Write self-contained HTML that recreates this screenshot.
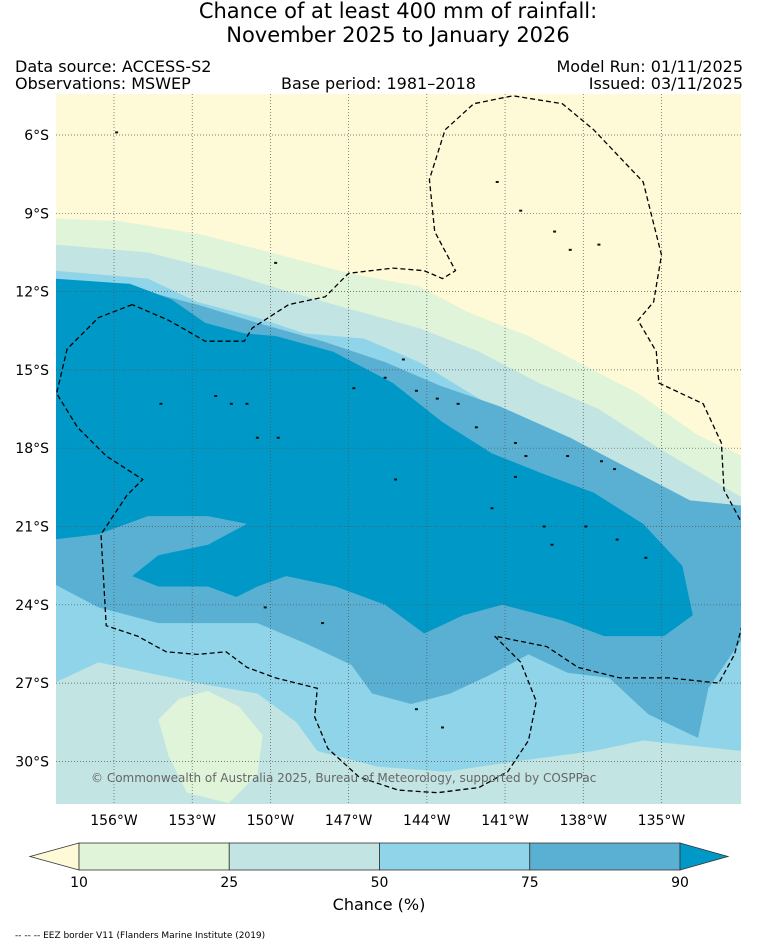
<!DOCTYPE html>
<html><head><meta charset="utf-8"><style>
body{margin:0;background:#fff;width:758px;height:947px;overflow:hidden;font-family:"DejaVu Sans",sans-serif}
svg{display:block}
text{font-family:"DejaVu Sans","Liberation Sans",sans-serif}
</style></head><body>
<svg id="chart" width="758" height="947" viewBox="0 0 758 947">
<text x="398" y="18" font-size="21" text-anchor="middle">Chance of at least 400 mm of rainfall:</text>
<text x="398" y="42" font-size="21" text-anchor="middle">November 2025 to January 2026</text>
<text x="15" y="72" font-size="16">Data source: ACCESS-S2</text>
<text x="15" y="89" font-size="16">Observations: MSWEP</text>
<text x="281" y="89" font-size="16">Base period: 1981–2018</text>
<text x="743" y="72" font-size="16" text-anchor="end">Model Run: 01/11/2025</text>
<text x="743" y="89" font-size="16" text-anchor="end">Issued: 03/11/2025</text>
<defs><clipPath id="mapclip"><rect x="56" y="94" width="685" height="710"/></clipPath></defs>
<g id="map" clip-path="url(#mapclip)"></g>
<g id="axes"></g>
<g id="cbar"></g>
<text x="379" y="910" font-size="16" text-anchor="middle">Chance (%)</text>
<text x="15" y="938" font-size="9">-- -- -- EEZ border V11 (Flanders Marine Institute (2019)</text>
</svg>
<script>
// Map extent and ticks
const lonTicks=[-156,-153,-150,-147,-144,-141,-138,-135];
const latTicks=[6,9,12,15,18,21,24,27,30];
const cbarLevels=[10,25,50,75,90];
const bandColors=["#dff4d8","#c2e4e2","#8fd4e8","#5ab0d2","#0099c7"];
// contour boundaries, [lonW, latS] pairs
const greenTop=[[158.3,9.2],[155.8,9.3],[152.7,9.8],[150.4,10.4],[148.1,11.0],[147.0,11.3],[144.3,11.8],[142.4,12.8],[140.1,13.7],[138.2,14.7],[135.9,15.9],[133.6,17.5],[131.9,18.3]];
const paleTop=[[158.3,10.2],[154.7,10.5],[151.6,11.3],[149.3,12.0],[147.2,12.6],[144.3,13.4],[142.0,14.3],[139.7,15.5],[137.4,16.5],[135.1,18.0],[131.9,19.9]];
const lightTop=[[158.3,11.2],[154.7,11.5],[152.8,12.4],[150.5,13.0],[148.7,13.6],[146.4,13.8],[144.3,14.7],[142.0,16.1],[140.5,17.0],[138.2,18.1],[135.9,19.4],[133.0,21.3],[131.9,21.7]];
const midTop=[[158.3,11.6],[155.1,11.9],[152.8,12.5],[150.5,13.2],[148.0,13.9],[145.6,14.7],[143.5,15.6],[141.2,16.4],[138.5,17.6],[136.2,18.8],[133.9,20.0],[131.9,20.2]];
const midBottom=[[158.3,23.2],[156.6,24.1],[154.3,24.7],[152.4,24.7],[150.5,24.7],[148.6,25.5],[146.9,26.3],[146.1,27.4],[144.6,27.8],[143.1,27.4],[141.6,26.7],[140.1,25.9],[138.6,26.6],[137.0,26.8],[135.5,28.2],[133.6,29.1],[133.2,27.2],[131.9,25.3]];
const lightBottom=[[158.3,27.0],[156.6,26.2],[154.7,26.6],[152.8,27.0],[150.5,27.4],[149.0,28.5],[148.2,29.6],[145.9,30.2],[143.3,30.4],[140.6,30.0],[137.6,29.6],[135.7,29.2],[131.9,29.6]];
const darkShape=[[158.3,11.5],[155.4,11.7],[153.8,12.3],[152.5,13.2],[151.0,13.6],[149.8,13.7],[147.6,14.3],[145.3,15.5],[143.4,17.0],[141.5,18.2],[139.5,19.0],[137.6,19.7],[135.7,20.9],[134.2,22.5],[133.8,24.4],[134.9,25.2],[137.2,25.2],[138.8,24.6],[141.1,24.0],[142.6,24.4],[144.1,25.1],[145.6,24.0],[147.5,23.3],[149.4,22.9],[150.5,23.3],[151.3,23.7],[152.4,23.3],[154.3,23.3],[155.3,22.9],[154.3,22.1],[152.4,21.7],[150.9,20.9],[152.4,20.6],[154.7,20.6],[156.6,21.3],[158.3,21.5]];
const greenBlob=[[153.5,27.6],[152.4,27.3],[151.2,27.9],[150.3,29.0],[150.5,30.5],[151.6,31.6],[153.2,31.2],[153.9,29.8],[154.3,28.4]];
const eez=[[155.3,12.5],[156.6,13.0],[157.8,14.2],[158.2,15.9],[157.4,17.2],[156.3,18.3],[154.9,19.2],[155.5,19.8],[156.5,21.3],[156.3,24.8],[155.1,25.2],[154.0,25.8],[152.8,25.9],[151.7,25.8],[150.9,26.4],[149.8,26.8],[148.2,27.2],[148.3,28.3],[147.8,29.5],[146.6,30.6],[145.1,31.1],[143.6,31.2],[142.0,31.0],[140.9,30.4],[140.1,29.2],[139.8,27.7],[140.4,26.2],[141.4,25.2],[139.4,25.6],[138.2,26.4],[136.6,26.8],[134.7,26.8],[132.8,27.0],[132.2,25.9],[131.7,24.0],[131.9,20.9],[132.6,19.6],[132.7,17.8],[133.4,16.3],[135.1,15.5],[135.2,14.3],[135.9,13.1],[135.3,12.4],[135.0,10.6],[135.7,7.8],[137.6,5.8],[138.8,4.8],[140.7,4.5],[142.2,4.8],[143.3,5.8],[143.9,7.7],[143.7,9.7],[142.9,11.2],[143.4,11.5],[144.1,11.2],[145.3,11.1],[147.0,11.3],[147.9,12.2],[149.3,12.5],[150.7,13.4],[151.0,13.9],[152.5,13.9],[153.9,13.1],[155.3,12.5]];
const islands=[[155.9,5.9],[149.8,10.9],[154.2,16.3],[152.1,16.0],[151.5,16.3],[150.9,16.3],[150.5,17.6],[149.7,17.6],[146.8,15.7],[145.6,15.3],[144.9,14.6],[144.4,15.8],[143.6,16.1],[142.8,16.3],[142.1,17.2],[140.6,17.8],[140.2,18.3],[140.6,19.1],[138.6,18.3],[137.3,18.5],[136.8,18.8],[139.5,21.0],[139.2,21.7],[137.9,21.0],[136.7,21.5],[135.6,22.2],[148.0,24.7],[150.2,24.1],[144.4,28.0],[143.4,28.7],[141.5,20.3],[141.3,7.8],[140.4,8.9],[139.1,9.7],[138.5,10.4],[137.4,10.2],[145.2,19.2]];
const svgNS="http://www.w3.org/2000/svg";
const X0=114, XS=26.07, Y0=135, YS=26.1;
function xScale(lonW){return X0+(156-lonW)*XS;}
function yScale(latS){return Y0+(latS-6)*YS;}
function pts(arr){return arr.map(p=>xScale(p[0]).toFixed(1)+","+yScale(p[1]).toFixed(1));}
function mk(tag,attrs,parent){const e=document.createElementNS(svgNS,tag);for(const k in attrs)e.setAttribute(k,attrs[k]);parent.appendChild(e);return e;}
const map=document.getElementById("map");
let r=mk("rect",{x:56,y:94,width:685,height:710,fill:"#fef9d7"},map);


function bandDown(top,color,name){
  const p=pts(top).concat([xScale(131.9)+","+yScale(32),xScale(158.3)+","+yScale(32)]);
  const e=mk("polygon",{points:p.join(" "),fill:color},map);
  
  
}
function bandBetween(top,bottom,color,name){
  const p=pts(top).concat(pts(bottom.slice().reverse()));
  const e=mk("polygon",{points:p.join(" "),fill:color},map);
  
  
}
bandDown(greenTop,bandColors[0],'band-10-25');
bandDown(paleTop,bandColors[1],'band-25-50');
bandBetween(lightTop,lightBottom,bandColors[2],'band-50-75');
bandBetween(midTop,midBottom,bandColors[3],'band-75-90');
let d=mk("polygon",{points:pts(darkShape).join(" "),fill:bandColors[4]},map);


let g=mk("polygon",{points:pts(greenBlob).join(" "),fill:bandColors[0]},map);


// gridlines
lonTicks.forEach(l=>{const e=mk("line",{x1:xScale(l*-1),x2:xScale(l*-1),y1:94,y2:804,stroke:"#555","stroke-width":0.7,"stroke-dasharray":"1,2"},map);

});
latTicks.forEach(l=>{const e=mk("line",{x1:56,x2:741,y1:yScale(l),y2:yScale(l),stroke:"#555","stroke-width":0.7,"stroke-dasharray":"1,2"},map);

});
islands.forEach(p=>{const e=mk("rect",{x:xScale(p[0])-1.5,y:yScale(p[1])-1,width:3,height:2,fill:"#111"},map);

});
let ez=mk("polyline",{points:pts(eez).join(" "),fill:"none",stroke:"#000","stroke-width":1.3,"stroke-dasharray":"5,3"},map);


let ct=mk("text",{x:91,y:782,"font-size":12,fill:"#666"},map);
ct.textContent="© Commonwealth of Australia 2025, Bureau of Meteorology, supported by COSPPac";


// axis labels
const axes=document.getElementById("axes");
lonTicks.forEach(l=>{const t=mk("text",{x:xScale(-l),y:825,"font-size":14,"text-anchor":"middle"},axes);t.textContent=(-l)+"°W";

});
latTicks.forEach(l=>{const t=mk("text",{x:49,y:yScale(l)+5,"font-size":14,"text-anchor":"end"},axes);t.textContent=l+"°S";

});
// colorbar
const cb=document.getElementById("cbar");
const cx0=79, cx1=680, cy=843, ch=27;
function cbx(v){return cx0+cbarLevels.indexOf(v)*(cx1-cx0)/(cbarLevels.length-1);}
let lt=mk("polygon",{points:`${cx0},${cy} ${cx0},${cy+ch} 30,${cy+ch/2}`,fill:"#fef9d7",stroke:"#333","stroke-width":0.8},cb);


for(let i=0;i<cbarLevels.length-1;i++){
  const e=mk("rect",{x:cbx(cbarLevels[i]),y:cy,width:cbx(cbarLevels[i+1])-cbx(cbarLevels[i]),height:ch,fill:bandColors[i],stroke:"#333","stroke-width":0.8},cb);
  
  
}
let rt=mk("polygon",{points:`${cx1},${cy} ${cx1},${cy+ch} 728,${cy+ch/2}`,fill:bandColors[4],stroke:"#333","stroke-width":0.8},cb);


cbarLevels.forEach(v=>{const t=mk("text",{x:cbx(v),y:887,"font-size":14,"text-anchor":"middle"},cb);t.textContent=v;

});
</script>
</body></html>
